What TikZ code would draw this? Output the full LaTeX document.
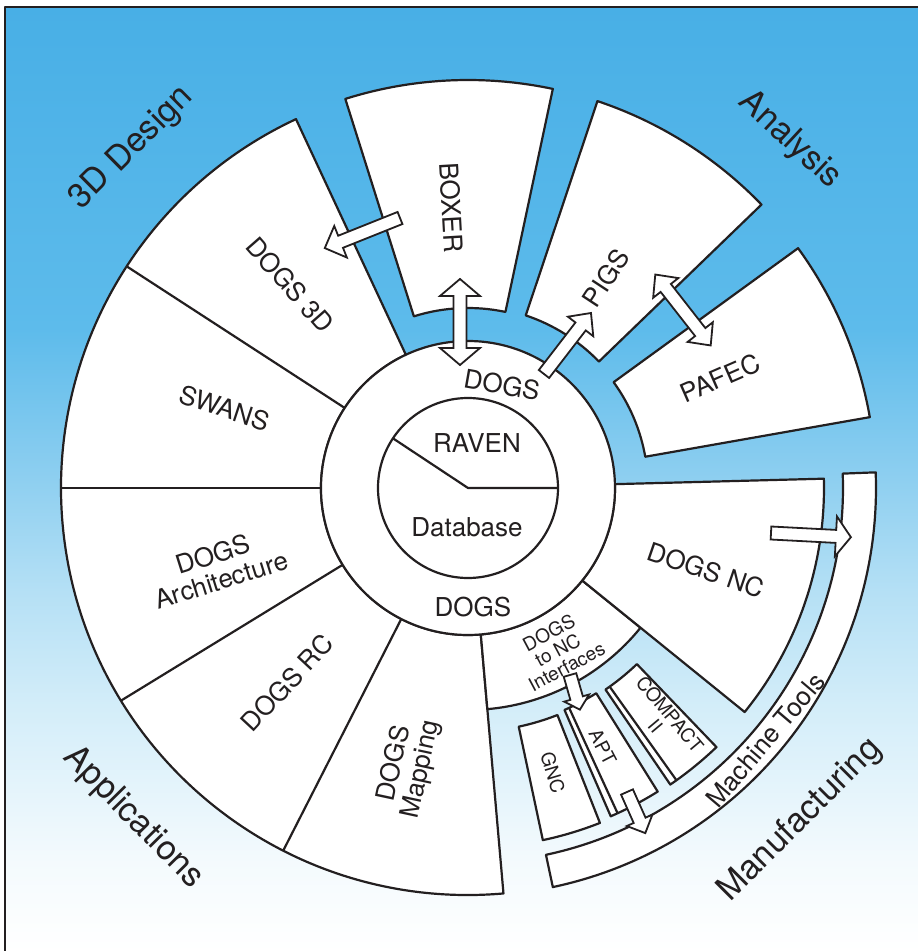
\documentclass[tikz,border=0pt]{standalone}
\usepackage{fontspec}
\setmainfont{TeX Gyre Heros}
\definecolor{inkline}{HTML}{231F20}
\definecolor{skyA}{HTML}{48AFE6}
\definecolor{skyB}{HTML}{5DBBEB}
\definecolor{skyC}{HTML}{8ECFF0}
\definecolor{skyD}{HTML}{B5E0F5}
\definecolor{skyE}{HTML}{D3EDF9}
\definecolor{skyF}{HTML}{F3FAFD}
\pgfdeclareverticalshading{skyfade}{100bp}{color(0bp)=(white); color(25bp)=(white); color(30bp)=(skyF); color(38bp)=(skyE); color(44bp)=(skyD); color(50bp)=(skyC); color(58bp)=(skyB); color(75bp)=(skyA); color(100bp)=(skyA)}
% annular piece: start angle, end angle, inner radius, outer radius
\newcommand{\ringpart}[4]{(#1:#3) arc[start angle=#1, end angle=#2, radius=#3] -- (#2:#4) arc[start angle=#2, end angle=#1, radius=#4] -- cycle}

\begin{document}
\begin{tikzpicture}[x=1pt, y=1pt, line join=round,
    wedge/.style={draw=inkline, line width=2.2pt, fill=white},
    bigtag/.style={text=inkline, inner sep=0pt, font=\fontsize{34}{36}\selectfont},
    tag/.style={text=inkline, inner sep=0pt, align=center, font=\fontsize{26}{27}\selectfont},
    smalltag/.style={text=inkline, inner sep=0pt, align=center, font=\fontsize{19}{19}\selectfont},
    blockarrow/.style={draw=inkline, line width=1.8pt, fill=white, line join=miter},
    pics/onearrow/.style n args={3}{code={
        \draw[blockarrow] (0,-6.5) -- (#1-#3,-6.5) -- (#1-#3,-#2) -- (#1,0) -- (#1-#3,#2) -- (#1-#3,6.5) -- (0,6.5) -- cycle;}},
    pics/twoarrow/.style n args={3}{code={
        \draw[blockarrow] (-#1/2+#3,-6.5) -- (#1/2-#3,-6.5) -- (#1/2-#3,-#2) -- (#1/2,0) -- (#1/2-#3,#2) -- (#1/2-#3,6.5)
            -- (-#1/2+#3,6.5) -- (-#1/2+#3,#2) -- (-#1/2,0) -- (-#1/2+#3,-#2) -- cycle;}}
]
\useasboundingbox (-468,-463) rectangle (450,488);

% background and frame
\shade[shading=skyfade] (-463,-463) rectangle (450,481);
\draw[inkline, line width=1.5pt] (-463,-463) -- (-463,481) -- (450,481);

% applications side
\draw[wedge] \ringpart{115}{275}{147}{407};
\foreach \a in {147,180,211.5,243}
    \draw[wedge] (\a:147) -- (\a:407);

% analysis side
\draw[wedge] \ringpart{78}{107.5}{180}{408};
\draw[wedge] \ringpart{44}{71.5}{182}{408};
\draw[wedge] \ringpart{10}{36}{180}{408};

% manufacturing side
\draw[wedge] \ringpart{275}{321}{147}{222};
\draw[wedge] \ringpart{321}{361.5}{147}{356};
\draw[wedge] \ringpart{282}{362.2}{375}{408};
\draw[wedge] \ringpart{282}{291.5}{244}{360};
\draw[wedge] \ringpart{293.5}{302}{242}{358};
\draw[wedge] (294.7:242) -- (294.7:358);
\draw[wedge] \ringpart{304.3}{313.8}{244}{359};
\draw[wedge] (305.5:244) -- (305.5:359);

% core
\draw[wedge] (0,0) circle[radius=147];
\draw[wedge] (0,0) circle[radius=90];
\draw[wedge] (146.5:90) -- (0,0) -- (0:90);

% arrows
\pic[rotate=201.8] (toDesign) at (-68,270) {onearrow={81}{17}{17}};
\pic[rotate=90] (boxerLink) at (-8,166) {twoarrow={86}{20}{17}};
\pic[rotate=52.4] (toPigs) at (76,114) {onearrow={77}{16}{17}};
\pic[rotate=-52] (pigsLink) at (215,178) {twoarrow={90}{16}{17}};
\pic[rotate=-3] (toTools) at (303,-45) {onearrow={80}{20}{15}};
\pic[rotate=-74] (toApt) at (102,-187) {onearrow={36}{13}{12}};
\pic[rotate=-66] (aptOut) at (159,-304) {onearrow={45}{14}{14}};

% group titles
\node[bigtag, rotate=44.7] (designTag) at (134.7:478) {3D Design};
\node[bigtag, rotate=-42.8] (analysisTag) at (47.2:474) {Analysis};
\node[bigtag, rotate=-45.4] (appsTag) at (224.6:470) {Applications};
\node[bigtag, rotate=45] (manuTag) at (-45:470) {Manufacturing};

% segment labels
\node[tag, rotate=-48.8] (dogs3d) at (131.2:270) {DOGS 3D};
\node[tag, rotate=-86.7] (boxer) at (93.3:281) {BOXER};
\node[tag, rotate=56.7] (pigs) at (56.7:251) {PIGS};
\node[tag, rotate=23.6] (pafec) at (23.6:275) {PAFEC};
\node[tag, rotate=-18.2] (swans) at (161.8:256) {SWANS};
\node[tag, rotate=17.5] (arch) at (197.5:263) {DOGS\\Architecture};
\node[tag, rotate=47] (dogsrc) at (227.1:266) {DOGS RC};
\node[tag, rotate=77.9] (mapping) at (257.9:285) {DOGS\\Mapping};
\node[tag, rotate=-19] (dogsnc) at (-19:252) {DOGS NC};
\node[smalltag, rotate=28] (ncif) at (-61:185) {DOGS\\to NC\\Interfaces};
\node[smalltag, rotate=-73.4] (gnc) at (-73.4:297) {GNC};
\node[smalltag, rotate=-62.5] (apt) at (-62.5:292) {APT};
\node[smalltag, rotate=-50] (compact) at (-50:303) {COMPACT\\II};
\node[tag, rotate=49.7] (tools) at (-40.3:390) {Machine Tools};

% core labels
\node[tag, rotate=-10] (dogsTop) at (34,103) {DOGS};
\node[tag] (dogsLow) at (5,-119) {DOGS};
\node[tag] (raven) at (9,45) {RAVEN};
\node[tag] (database) at (-1,-39) {Database};
\end{tikzpicture}
\end{document}
